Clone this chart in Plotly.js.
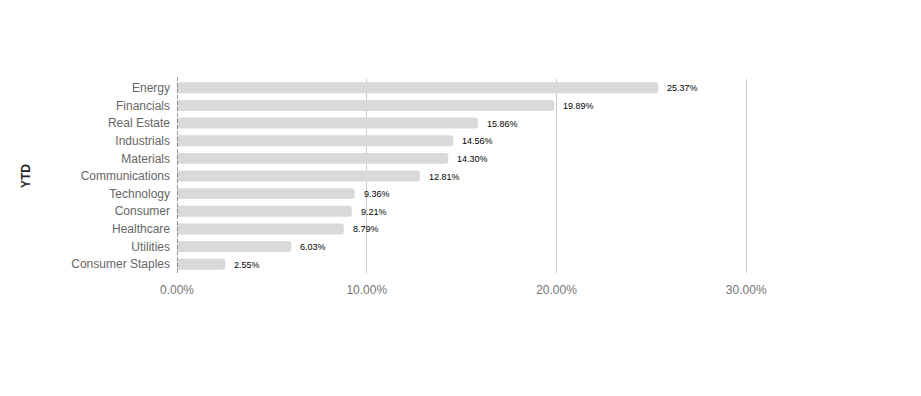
<!DOCTYPE html>
<html><head><meta charset="utf-8">
<script src="https://cdn.plot.ly/plotly-3.0.1.min.js"></script>
<style>html,body{margin:0;padding:0;background:#fff}</style>
</head><body><div id="chart" style="width:921px;height:396px"></div>
<script>
const categories = ["Energy","Financials","Real Estate","Industrials","Materials","Communications","Technology","Consumer","Healthcare","Utilities","Consumer Staples"];
const ytd = [0.2537,0.1989,0.1586,0.1456,0.1430,0.1281,0.0936,0.0921,0.0879,0.0603,0.0255];
const tickVals = [0,0.1,0.2,0.3];
const tickText = ["0.00%","10.00%","20.00%","30.00%"];

const fontFam = "Arial, 'Liberation Sans', sans-serif";
const trace = {
  type:"bar", orientation:"h", x:ytd, y:categories,
  marker:{color:"#d9d9d9", cornerradius:3},
  width:0.62, hoverinfo:"x+y"
};
const annotations = categories.map((c,i)=>({
  x:ytd[i], y:c, xref:"x", yref:"y", text:(ytd[i]*100).toFixed(2)+"%",
  showarrow:false, xanchor:"left", xshift:7, yshift:-0.5,
  font:{family:fontFam, size:9, color:"#000"}
}));
const layout = {
  width:921, height:396,
  margin:{l:177, r:171, t:79, b:123, pad:0},
  paper_bgcolor:"#fff", plot_bgcolor:"#fff",
  showlegend:false,
  font:{family:fontFam},
  xaxis:{range:[0,0.302], tickvals:tickVals, ticktext:tickText, showgrid:true, gridcolor:"#cccccc",
    zeroline:false, showline:false, ticks:"", tickfont:{size:12, color:"#757575"}, ticklabelstandoff:8, fixedrange:true},
  yaxis:{autorange:"reversed", showgrid:false, zeroline:false, showline:false, ticks:"",
    tickfont:{size:12, color:"#666"}, ticklabelstandoff:6,
    title:{text:"<b>YTD</b>", font:{size:12, color:"#222"}, standoff:38}},
  shapes:[{type:"line", xref:"x", yref:"paper", x0:tickVals[0], x1:tickVals[0], y0:0, y1:1.016,
    line:{color:"#333", width:1, dash:"4px,2px"}}],
  annotations:annotations
};
Plotly.newPlot("chart",[trace],layout,{displayModeBar:false, staticPlot:true});
</script></body></html>
